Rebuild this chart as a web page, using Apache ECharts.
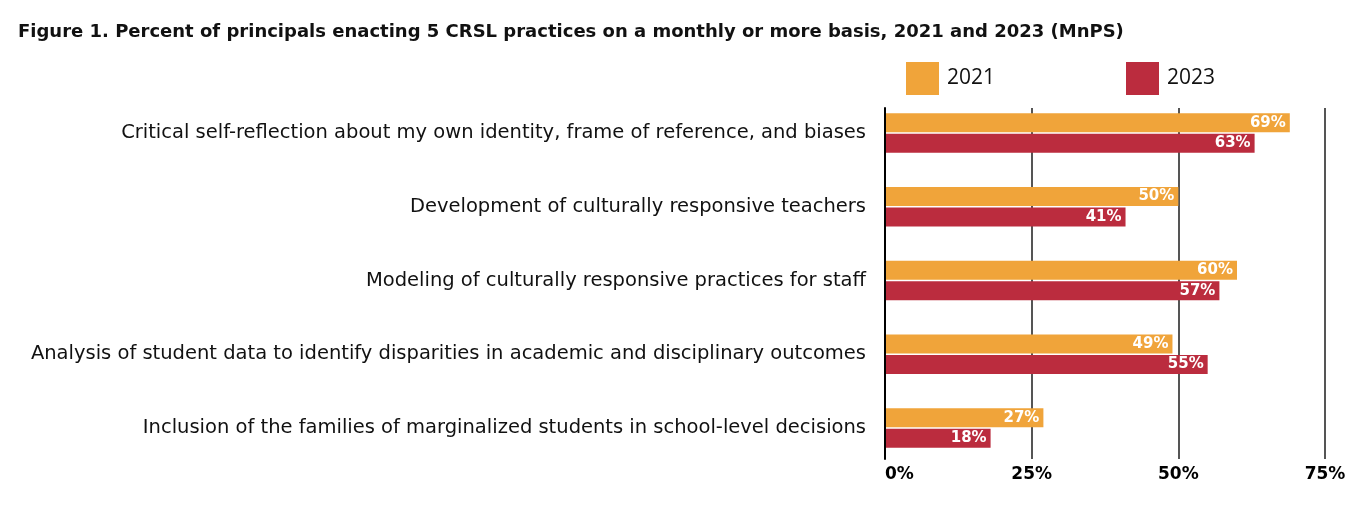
<!DOCTYPE html>
<html>
<head>
<meta charset="utf-8">
<script src="https://cdn.jsdelivr.net/npm/echarts@6/dist/echarts.min.js"></script>
<style>html,body{margin:0;padding:0;background:#fff;}#c{width:1360px;height:517px;}</style>
</head>
<body>
<div id="c"></div>
<script>
var titleText = 'Figure 1. Percent of principals enacting 5 CRSL practices on a monthly or more basis, 2021 and 2023 (MnPS)';
var categories = [
  'Critical self-reflection about my own identity, frame of reference, and biases',
  'Development of culturally responsive teachers',
  'Modeling of culturally responsive practices for staff',
  'Analysis of student data to identify disparities in academic and disciplinary outcomes',
  'Inclusion of the families of marginalized students in school-level decisions'
];
var seriesNames = ['2021', '2023'];
var values2021 = [69, 50, 60, 49, 27];
var values2023 = [63, 41, 57, 55, 18];
var xTicks = [0, 25, 50, 75];

var FONT = 'DejaVu Sans';
var chart = echarts.init(document.getElementById('c'));
var labelOpt = {
  show: true, position: 'insideRight', distance: 4,
  color: '#fff', fontFamily: FONT, fontWeight: 'bold', fontSize: 15,
  formatter: function (p) { return p.value + '%'; }
};
function legendFor(name, left) {
  return {
    data: [name], left: left, top: 62, itemWidth: 33, itemHeight: 33, itemGap: 5, padding: 0,
    icon: 'rect', selectedMode: false,
    textStyle: { fontFamily: 'Open Sans', fontSize: 21, color: '#111', padding: [2, 0, 0, 3] }
  };
}
chart.setOption({
  animation: false,
  title: {
    text: titleText, left: 18, top: 23, padding: 0,
    textStyle: { fontFamily: FONT, fontWeight: 'bold', fontSize: 18, color: '#111' }
  },
  legend: [legendFor(seriesNames[0], 906), legendFor(seriesNames[1], 1126)],
  grid: [
    { left: 885, width: 440, top: 96, height: 369 },
    { left: 885, width: 440, top: 108, height: 351 }
  ],
  xAxis: [
    { type: 'value', gridIndex: 0, min: 0, max: 75, interval: 25,
      axisLine: { show: false }, axisTick: { show: false }, axisLabel: { show: false }, splitLine: { show: false } },
    { type: 'value', gridIndex: 1, min: 0, max: 75, interval: 25,
      axisLine: { show: false }, axisTick: { show: false },
      splitLine: { show: true, lineStyle: { color: '#555', width: 2 } },
      axisLabel: { show: true, margin: 7, fontFamily: FONT, fontWeight: 'bold', fontSize: 17, color: '#000',
        alignMinLabel: 'left',
        formatter: function (v) { return xTicks.indexOf(v) >= 0 ? v + '%' : ''; } } }
  ],
  yAxis: [
    { type: 'category', gridIndex: 0, data: categories, inverse: true,
      axisLine: { show: false }, axisTick: { show: false },
      axisLabel: { margin: 19, fontFamily: FONT, fontSize: 19.5, color: '#111' } },
    { type: 'category', gridIndex: 1, data: categories, inverse: true,
      axisLine: { show: true, lineStyle: { color: '#000', width: 2 } }, axisTick: { show: false },
      axisLabel: { show: false }, z: 5 }
  ],
  series: [
    { name: '2021', type: 'bar', xAxisIndex: 0, yAxisIndex: 0, data: values2021, barWidth: 19, barGap: '8%',
      itemStyle: { color: '#F0A43A' }, label: labelOpt, z: 3 },
    { name: '2023', type: 'bar', xAxisIndex: 0, yAxisIndex: 0, data: values2023, barWidth: 19, barGap: '8%',
      itemStyle: { color: '#BB2C3E' }, label: labelOpt, z: 3 }
  ]
});
</script>
</body>
</html>
